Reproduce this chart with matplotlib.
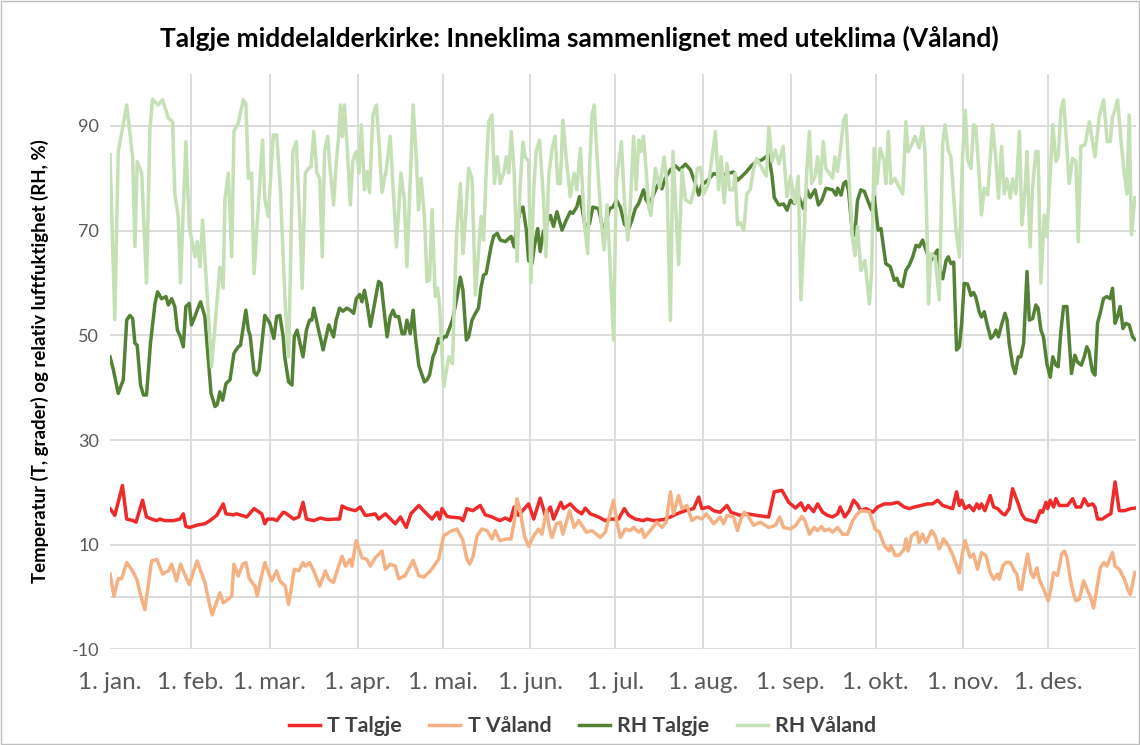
import matplotlib
matplotlib.use("Agg")
import matplotlib.pyplot as plt
from matplotlib.patches import Rectangle
import numpy as np

plt.rcParams['font.family'] = ['Lato', 'DejaVu Sans']

# day of year (0 = 1. jan.) and values
t_talgje_day = [2.5, 4.2, 6.9, 8.4, 10.7, 11.7, 14, 15.4, 17.2, 19, 20.1, 21.9, 24.9, 27.2, 28.4, 29.3, 30.7, 33.7, 36, 37.8,
                40.2, 42.5, 43.5, 46.1, 47.2, 50.8, 53.4, 56.1, 57.2, 58.1, 60.2, 61.4, 63.7, 64.4, 67.4, 69.2, 70.7, 71.9, 74.5, 76.8,
                79.2, 82.1, 83.6, 84.5, 86.2, 89.2, 90.9, 92.7, 94.5, 96.2, 97.4, 99.8, 103.3, 105.1, 107.2, 108.8, 111.6, 113.3, 116.3, 118.1,
                119, 119.8, 121.6, 122.7, 126.3, 127.2, 128.6, 130.7, 133.3, 135.1, 137.5, 140.2, 142.2, 143.9, 145.3, 146.8, 150.4, 152.2, 154.5, 156.3,
                158.1, 159.2, 161.8, 162.7, 165.1, 167.4, 169.2, 170.4, 172.2, 175.1, 177.5, 179.3, 182.2, 184.2, 185.8, 188.1, 191, 192.2, 194.6, 198.1,
                200.5, 202.8, 205.8, 208.7, 210.5, 211.6, 214, 215.8, 218.1, 220.5, 221.9, 225.2, 227.5, 231.1, 235.2, 237.2, 239.9, 242.3, 244.7, 246.6,
                248, 249.2, 251.1, 252.5, 254.3, 256, 257.8, 259.6, 260.5, 262.1, 263.7, 265.2, 266.4, 267.8, 269.6, 272, 273.7, 276.1, 278.4, 280.8,
                283.1, 284.9, 286.7, 289, 291.4, 293.1, 294.9, 296.7, 298.4, 300.2, 301.6, 302.6, 303.4, 304.6, 306.1, 307.6, 308.8, 309.6, 310.4, 311.6,
                313.5, 314.7, 316.1, 317.9, 318.7, 320.2, 321.4, 323.4, 324.6, 325.8, 327.9, 329.6, 331.2, 332, 333.2, 333.8, 334.7, 335.9, 336.7, 337.9,
                340.8, 342.6, 343.8, 345.5, 346.7, 348.1, 349.7, 350.5, 351.4, 353.1, 355, 356.1, 357.6, 359.1, 360.9, 363.2, 364.6]
t_talgje = [16.9, 15.6, 21.3, 14.9, 14.6, 14.3, 18.5, 15.3, 14.9, 14.6, 14.9, 14.6, 14.6, 14.9, 15.9, 13.5, 13.3, 13.8, 14, 14.6,
            15.6, 17.8, 15.9, 15.7, 15.9, 15.3, 16.9, 15.9, 14, 14.9, 14.9, 14.6, 16.2, 16.1, 14.9, 15.3, 18.1, 14.9, 14.6, 15.1,
            14.8, 14.9, 14.9, 17.4, 16.9, 16.5, 17.2, 15.6, 15.7, 15.9, 14.9, 15.9, 14, 15.3, 13.3, 15.9, 17.5, 16.5, 14.9, 16.2,
            14.9, 16.9, 15.4, 15.3, 15.1, 14.6, 16.9, 16.5, 17.5, 15.7, 15.3, 14.6, 15.1, 14.6, 17.2, 15.6, 17.8, 14.9, 18.9, 15.6,
            17.2, 14.9, 18.1, 16.9, 17.8, 16.5, 15.9, 17, 15.9, 15.3, 14.6, 14.9, 14.9, 16.9, 15.6, 14.9, 14.6, 14.9, 14.6, 14.8,
            15.3, 15.9, 16.5, 16.9, 19.1, 16.9, 17.2, 16.5, 16.2, 17.5, 16.2, 15.6, 15.9, 15.6, 15.3, 20.1, 20.4, 18.1, 17, 18,
            16.5, 17.5, 16.3, 17.8, 16.2, 15.6, 15.3, 15.9, 17.2, 15.3, 16.5, 18.5, 17.8, 16.5, 16.9, 16.2, 17.2, 17.8, 17.8, 18.1,
            17.2, 16.9, 17.2, 17.5, 17.8, 17.8, 18.5, 17.5, 17.2, 16.9, 20.1, 17.5, 18.5, 16.9, 17.5, 16.5, 17.8, 16.9, 17.8, 16.5,
            19.4, 17.2, 16.9, 15.9, 15.7, 16.9, 20.7, 17.8, 15.9, 14.9, 14.6, 14.3, 16.5, 16.2, 18.1, 16.9, 18.5, 17.2, 18.8, 17.5,
            17.5, 18.8, 17.2, 17.2, 18.8, 17.5, 17.8, 17.2, 14.9, 14.9, 15.6, 15.9, 22, 16.5, 16.5, 16.9, 17]

t_valand_day = [2.5, 3.9, 5.4, 6.6, 8.4, 10.1, 11.9, 13.7, 14.8, 17.2, 19, 21.1, 23.1, 24.3, 26, 27.4, 28.6, 30.5, 31.9, 33.3,
                36, 37.8, 38.6, 41.3, 42.5, 44.3, 45.5, 46.3, 47.8, 49.4, 50.5, 51.7, 53.7, 54.5, 56, 57.2, 59.6, 61.4, 62.5, 64.4,
                65.6, 66.4, 67.6, 69.2, 70.7, 71.5, 73, 74.5, 76.6, 78.6, 79.8, 81.5, 82.9, 84.5, 85.7, 87.4, 88, 89.5, 91.5, 93.3,
                94.5, 96.2, 98.6, 99.8, 101.5, 103.3, 104.5, 106.8, 109.6, 111.6, 113.3, 115.7, 118.6, 120.4, 122.7, 125.1, 127.2, 128.6, 129.6, 130.7,
                132.2, 133.9, 135.7, 137.5, 138.6, 140.2, 142.8, 144.2, 145.3, 146.3, 147.5, 148.9, 150.4, 152.2, 153.9, 155.1, 156.7, 157.8, 158.7, 160.2,
                161.6, 162.5, 164.9, 166.5, 168.1, 170.8, 172.8, 175.7, 177.5, 180.4, 181.6, 182.8, 184.6, 186.3, 187.5, 189.3, 190.4, 191.3, 193.4, 195.7,
                197.5, 199, 200.5, 201.6, 203.4, 204.6, 206.3, 208.1, 209.9, 211.6, 213.2, 214.6, 215.8, 218.1, 219.3, 220.5, 222.8, 224.2, 225.4, 226.6,
                228.1, 229.9, 232.3, 235.2, 237.6, 239.1, 240.5, 242.9, 244.8, 246.9, 248, 249.6, 251.3, 252.5, 253.9, 254.9, 256.6, 257.8, 259.6, 261.3,
                263.1, 264.9, 266.1, 267.8, 270.8, 272.8, 274.3, 276.1, 277.8, 278.4, 279.8, 281.4, 283.1, 283.7, 284.5, 285.7, 287.6, 288.4, 289.6, 290.8,
                292.8, 294, 295.5, 297, 298.4, 299.9, 302.6, 303.7, 304.6, 306.4, 307.6, 309, 310.4, 312, 313.5, 314.7, 316.1, 316.7, 317.9, 319,
                320.6, 322, 322.9, 323.8, 324.6, 325.5, 326.7, 327.9, 328.8, 330, 330.8, 332.6, 334, 334.9, 335.9, 337.3, 338.7, 339.7, 340.6, 341.8,
                343, 343.8, 345, 346.5, 347.9, 348.8, 350, 351.2, 352.4, 353.6, 354.7, 356.7, 357.6, 359.1, 360.9, 362.3, 363, 364.6]
t_valand = [4.4, 0.2, 3.5, 3.5, 6.6, 5.3, 3.5, -0.4, -2.4, 6.9, 7.2, 4.4, 5, 6.3, 3.1, 6.3, 4.7, 2.4, 4.7, 6.9,
            2.8, -1.7, -3.4, 0.8, -1.1, -0.4, 0.2, 6.3, 4, 6.3, 6.6, 3.5, 2.1, 0.2, 4, 6.6, 3.1, 5, 3.1, 2.1,
            -1.4, 1.2, 5.3, 5, 6.6, 5.9, 6.6, 5, 2.1, 5, 3.4, 2.8, 5.3, 7.8, 5.9, 7.2, 5.9, 10.8, 7.5, 7.2,
            5.9, 7.5, 8.8, 5.3, 6.3, 5.9, 3.5, 4.1, 7, 4.1, 3.8, 5, 7.2, 11.7, 12.5, 13, 10.8, 7.2, 6.3, 7.6,
            11.7, 13, 12.7, 11.1, 12.7, 10.8, 11.1, 11.1, 14.3, 18.8, 16.2, 11.7, 9.7, 11.7, 13, 12, 16.5, 13, 11.4, 14,
            14.3, 12, 16.5, 13.3, 14.6, 12.4, 12.7, 11.4, 12.4, 18.5, 14.3, 11.4, 13, 12.7, 13.3, 12.4, 13, 11.4, 12.7, 14.3,
            13.3, 14.3, 20.1, 15.9, 19.4, 16.9, 17.5, 14.6, 15.3, 14.9, 15.9, 14.9, 14, 15.3, 14, 15.6, 15.3, 12.7, 14.9, 16.2,
            15.3, 13.7, 14.3, 13.3, 13.7, 15.3, 13.3, 13, 13.7, 15.4, 14.6, 12, 13.3, 12.7, 13.5, 12.7, 13, 12.4, 13.3, 12,
            12, 14.6, 15.6, 16.5, 16.3, 13, 12.4, 9.8, 8.8, 9.8, 8, 8, 9.2, 11.1, 8.8, 11.7, 12.4, 10.4, 12, 10.4,
            12.7, 11.7, 9.2, 11.1, 10.1, 8.5, 4.6, 8.5, 10.8, 7.6, 8.2, 5.3, 8.5, 7.9, 4.7, 3.4, 4.4, 3.4, 5.9, 6.6,
            6.6, 5, 4.4, 1.5, 1.5, 4.7, 8.2, 4.7, 3.7, 5.6, 3.4, 1.2, -0.7, 1.5, 4.7, 4.1, 8.2, 8.8, 7.6, 3.4,
            0.5, -0.7, -0.4, 3.1, 1.2, 0.2, -2.1, 1.8, 5.6, 6.6, 5.9, 8.5, 5.9, 5.3, 3.4, 1.2, 0.5, 4.7]

rh_talgje_day = [2.5, 3.7, 5.4, 7.2, 8.4, 9.5, 10.5, 11.3, 12.1, 13.3, 14.3, 15.4, 16.8, 18.4, 19.3, 20.7, 22.3, 23.1, 24.3, 25.4,
                 26.3, 27.4, 28.4, 29.3, 30.5, 31.3, 32.5, 33.3, 34.5, 36, 38.2, 39.6, 40.4, 41.3, 42.3, 43.5, 44.9, 46.3, 47.8, 48.6,
                 50.5, 51.4, 52, 53.4, 54.3, 55.2, 57.2, 59, 60.4, 61.4, 62.5, 63.7, 64.2, 65.6, 66.8, 67.6, 68.6, 70.7, 71.9, 73,
                 73.8, 74.5, 76.2, 77.8, 79.8, 81.5, 82.4, 83.6, 84.8, 86.2, 87.4, 88.6, 89.5, 90.7, 91.5, 92.4, 93.3, 94.5, 96, 97.4,
                 98.3, 99.4, 100.4, 101.5, 102.5, 103.3, 104.5, 105.7, 106.6, 107.4, 108.6, 109.6, 110.4, 111.6, 113.6, 114.5, 115.4, 116.6, 117.4, 118.6,
                 119.2, 120.4, 121.3, 122.2, 123.5, 124.9, 126.3, 127.2, 128.4, 129.2, 130.4, 131.6, 132.7, 133.6, 134.5, 135.4, 137.1, 138, 139.3, 140.4,
                 142.2, 144.2, 145.3, 146.3, 147.5, 148.4, 149.6, 150.4, 151.6, 152.4, 153.6, 154.5, 155.5, 156.9, 158.1, 159.2, 160.4, 162.2, 163.7, 165.1,
                 166, 167.4, 168.4, 169.2, 170.4, 171.9, 173.1, 175.1, 177.1, 178.1, 179, 180.2, 181.4, 182.8, 184.3, 185.8, 186.9, 188.1, 189.3, 191,
                 191.9, 193.1, 194.6, 196.3, 197.5, 198.7, 200.5, 202.2, 203.8, 205.8, 207.6, 209.3, 210.5, 211.6, 213.6, 215.8, 218.1, 220.5, 222.8, 224.2,
                 225.8, 227.3, 229.3, 231, 232.8, 235.2, 236.4, 237.2, 238.8, 240.5, 241.7, 242.9, 244.3, 245.4, 247.6, 248.7, 249.9, 251.6, 252.8, 254,
                 255.5, 257.8, 259, 259.6, 260.8, 261.7, 262.5, 263.4, 264.9, 265.7, 266.6, 267.8, 269, 270.2, 271.6, 272.5, 273.9, 274.9, 275.8, 276.6,
                 278.2, 279.6, 280.5, 281.4, 282.5, 283.7, 284.9, 286.1, 287.3, 288.4, 289.6, 290.8, 292, 292.6, 294, 294.9, 296.1, 296.7, 297.9, 298.7,
                 299.6, 300.6, 301.6, 302.6, 303.4, 304.3, 305.5, 306.7, 307.6, 308.4, 309.6, 310.4, 311.4, 312.3, 313.7, 314.7, 315.5, 316.4, 317.5, 318.7,
                 319.4, 320.2, 321.4, 322.3, 323.4, 324.3, 325.3, 326.5, 327.3, 328.5, 329.6, 330.4, 331.4, 332.3, 333.5, 334.7, 335.6, 336.7, 337.5, 338.5,
                 339.4, 340.6, 342.2, 343.4, 344.3, 345.7, 346.7, 347.6, 348.4, 349.6, 350.5, 351.4, 352.6, 353.5, 354.7, 355.9, 356.7, 357.6, 358.5, 359.4,
                 360.4, 361.4, 362.6, 363.8, 364.6]
rh_talgje = [45.9, 43.4, 38.9, 41.5, 52.9, 53.8, 53.2, 48.5, 48.1, 40.5, 38.6, 38.6, 48.5, 56.1, 58.3, 57, 57.4, 55.8, 57, 55.5,
             51, 49.7, 47.8, 55.5, 56.1, 52, 53.6, 54.8, 56.4, 53.6, 38.9, 36.4, 36.8, 39.2, 37.6, 40.8, 41.5, 46.6, 47.8, 48.1,
             54.8, 51, 50, 43, 42.4, 43.4, 53.8, 52.3, 49.4, 53.6, 53.8, 49.7, 46, 41.1, 40.5, 49.7, 51, 45.9, 51, 52.9,
             52.9, 55.2, 51, 47.2, 52, 49.7, 52.9, 55.2, 54.6, 55.2, 54.8, 54.2, 57, 57.8, 56.4, 58.6, 56.1, 51.7, 56.1, 60.3,
             59.9, 54.4, 49.7, 53.6, 54.8, 53.6, 53.6, 50.3, 50.3, 52.9, 50.3, 54.8, 49.7, 44.2, 41.1, 41.5, 42.4, 45.9, 46.9, 49.4,
             48.5, 49.7, 49.7, 51, 52.9, 56.7, 61.1, 58.6, 49.1, 49.7, 52.9, 54.2, 55.2, 59.2, 61.5, 61.8, 66.9, 68.9, 69.5, 68.2,
             67.9, 68.9, 66.9, 71.3, 73.9, 74.5, 70.1, 64.3, 63.7, 66.9, 70.4, 66, 69.5, 71.7, 72.9, 70.8, 73.6, 70.1, 72, 73.6,
             73.3, 74.5, 76.5, 74.5, 70.8, 71.3, 74.5, 74.2, 69.2, 72.3, 74.2, 74.5, 75.8, 74.5, 71.2, 70.4, 72, 74.2, 75.2, 77.8,
             75.9, 74.9, 77, 79, 78, 80, 81.6, 82.4, 81.6, 82.7, 81.6, 79, 76.8, 78.7, 79.6, 80.9, 80.5, 80.9, 81.2, 79.6,
             80.4, 81.2, 82.5, 83.2, 83.5, 84.5, 80.5, 76.3, 74.9, 75.1, 73.9, 75.8, 75.2, 77, 74.2, 77.8, 76.3, 77.8, 74.9, 75.8,
             78.1, 77.8, 76.8, 78.1, 76.8, 79, 79.4, 77.8, 68.9, 69.5, 75.8, 77.8, 77.5, 75.8, 73.9, 76.5, 70.1, 70.4, 66.9, 63.7,
             63.1, 60.5, 60.9, 59.6, 59.3, 62.4, 63.4, 65, 67.2, 66.9, 68.2, 66.3, 64.3, 64.3, 65.6, 66.3, 61.1, 60.8, 64.3, 65,
             63.7, 64, 47.2, 47.8, 52.3, 59.9, 59.8, 57.6, 58.2, 57.3, 54.5, 53.5, 54.5, 52.3, 49.4, 50, 51, 49.7, 52, 54.2,
             53, 48.5, 44.3, 42.7, 45.9, 45.9, 48.5, 62.2, 52.9, 53.2, 55.8, 55.2, 51, 49.7, 44.6, 42, 45.9, 44.3, 44, 51,
             55.5, 55.5, 42.7, 46.2, 44.9, 44.3, 45.9, 47.8, 46.9, 43.1, 42.4, 52.3, 54.8, 57, 57.4, 57, 59, 52.3, 53.6, 55.5,
             51.3, 52.3, 52, 49.7, 49.2]

rh_valand_day = [2.5, 4.2, 5.4, 8.4, 10.5, 11.3, 12.1, 13.7, 15.4, 16.6, 17.5, 19.5, 21.1, 23.1, 24.6, 25.4, 26.6, 27.4, 29.3, 30.5,
                 32.5, 33.3, 34.3, 35.2, 38.4, 41.3, 42.5, 43.1, 44.3, 45.5, 46.3, 47.8, 49.6, 50.5, 51.4, 52.5, 53.4, 56.4, 57.2, 58.4,
                 60.2, 61.4, 62.7, 64.3, 65.6, 67.1, 68.3, 69.7, 70.4, 71.5, 72.7, 73.5, 74.5, 75.6, 76.6, 77.5, 78.3, 79.4, 80.3, 81.5,
                 82.4, 83.3, 83.9, 84.6, 85.3, 86.5, 87.4, 88.3, 89.5, 90.5, 91.3, 92.4, 93.3, 94.2, 95.4, 96.6, 97.5, 98.6, 100.1, 101.5,
                 102.7, 103.7, 105.3, 106.5, 107.4, 109.6, 110.7, 111.5, 112.4, 113.6, 114.5, 115.4, 116.3, 117.4, 118.2, 118.9, 120.4, 122.2, 123.5, 124.9,
                 126.3, 127.2, 128, 129.2, 130.4, 131.6, 132.4, 133.6, 134.5, 135.4, 136.3, 137.5, 138.3, 139.3, 140.4, 141.6, 142.5, 143.4, 144.3, 145.3,
                 146.3, 147.5, 148.4, 149.2, 150.4, 151.2, 152.2, 153.1, 154.3, 155.7, 156.5, 157.5, 158.7, 159.8, 160.7, 161.6, 162.5, 163.7, 165.1, 166.5,
                 167.4, 168.7, 170.1, 171.3, 172, 172.8, 173.6, 174.6, 176, 177.1, 178.1, 179, 180.4, 181.4, 183.2, 184.2, 185.4, 186.3, 187.5, 188.4,
                 189.3, 190.1, 191, 192, 192.8, 193.6, 195.2, 196.7, 198.3, 199.3, 200.5, 201.4, 203.4, 204.6, 205.8, 207.6, 208.9, 210.1, 211.1, 212.2,
                 214, 216.4, 217.5, 218.4, 219.5, 220.5, 221.4, 222.8, 223.4, 224.2, 225.2, 226.4, 227.5, 228.7, 229.9, 231, 233.2, 234.4, 235.3, 236.4,
                 237.6, 238.8, 240.3, 241.7, 242.9, 244.5, 245.7, 246.6, 247.8, 248.7, 249.6, 250.4, 251.6, 252.5, 253.5, 254.5, 255.4, 256.6, 257.8, 258.6,
                 259.5, 260.5, 261.7, 262.5, 263.7, 264.8, 265.7, 266.6, 267.8, 269.2, 270.8, 271.6, 272.5, 273.5, 274.6, 276, 276.6, 277.5, 278.4, 279.8,
                 281.4, 282.6, 283.7, 284.5, 285.7, 286.9, 288.4, 289.6, 290.4, 291.1, 291.7, 292.5, 294, 295.5, 296.7, 297.5, 298.7, 299.6, 301.4, 302.6,
                 303.7, 304.7, 305.5, 306.7, 307.6, 308.4, 309.6, 310.4, 311.4, 312.6, 314.3, 315.5, 316.4, 317.5, 318.4, 319.4, 320.6, 321.4, 322.6, 323.8,
                 324.7, 325.8, 326.5, 327.6, 328.4, 329.6, 330.4, 331.4, 332.6, 333.5, 334.7, 335.6, 336.7, 337.5, 338.5, 339.4, 340.6, 341.4, 342.6, 343.8,
                 344.6, 345.5, 347, 348.5, 350.5, 352, 353.6, 354.8, 355.9, 356.7, 357.6, 358.5, 359.9, 360.9, 361.8, 362.6, 363.4, 364.6]
rh_valand = [84.5, 53, 85, 94, 84, 67, 83.2, 81, 60, 89.2, 95.1, 94, 95, 91.5, 90.8, 77, 72.7, 60, 87, 70.8,
             65, 67.9, 63.1, 72, 44, 63, 59, 75.9, 81, 65, 89, 90.5, 95, 94.3, 80, 81, 61.8, 87.3, 75.9, 72.7,
             88.3, 88.3, 77.8, 57, 45.9, 85.1, 87, 70.1, 59, 81, 81.9, 82.2, 88.9, 81, 80, 65, 85.1, 88, 81.6, 74.9,
             82.9, 88, 94, 88, 94, 84.1, 74.9, 83.4, 85.1, 81, 90.2, 77.8, 81.3, 77.3, 92.1, 94, 87.3, 77.3, 81.6, 88,
             76.5, 66.9, 81, 75.9, 63.1, 94, 84.1, 74, 80, 72.7, 60.3, 60.6, 74, 57.4, 59, 56.1, 40.2, 45.9, 44.6, 68.9,
             79, 65.6, 71.3, 81.9, 80, 57.7, 63.5, 72.7, 68.2, 81, 90.8, 92.1, 79, 84.1, 79, 81, 84.1, 81, 88.9, 81,
             64.1, 79.5, 86.9, 84.1, 83.2, 60, 77.8, 85.3, 87.3, 75.5, 65, 80.4, 85.7, 88, 79, 79, 91.1, 83.8, 76.5, 81,
             77.8, 85.7, 71.3, 65.6, 82.8, 92.1, 94, 84.1, 72, 66.3, 74.9, 65.6, 49.1, 79.5, 87, 76, 68.2, 74.5, 88, 77.8,
             87.3, 85.1, 88, 81, 74.5, 72.9, 81.9, 78.3, 84.1, 79, 52.9, 85.1, 63.5, 81.6, 75.9, 75.3, 77.8, 81.9, 82.1, 77,
             79, 88.9, 77.8, 84.1, 75.3, 82.8, 77.8, 77.8, 81, 71.1, 71.5, 70.1, 77, 77.8, 81.9, 83.8, 81.6, 80.4, 89.9, 83.2,
             85.4, 82.8, 86.1, 76.5, 80.4, 75.3, 80.4, 56.8, 70.1, 81.6, 88.9, 79, 80.4, 84.1, 79, 87, 81.9, 81, 80, 84.1,
             81.3, 85.1, 91.1, 92.1, 79, 68.7, 65.2, 70.8, 62.4, 64.3, 56, 62.4, 85.7, 79, 85.7, 83.2, 79, 88.9, 79, 80,
             78.3, 77, 90.8, 85.1, 86.4, 88, 85.8, 89.9, 85.4, 71.3, 56, 65.6, 65, 56.8, 86.6, 90.2, 85.4, 84.1, 70.1, 65,
             84, 93, 83.5, 81.9, 90.2, 89.9, 80.4, 73, 78.1, 76.8, 90.2, 83.5, 76.2, 86.1, 77, 79.9, 76.2, 79.9, 77, 88.9,
             71.1, 77.8, 85.1, 66.9, 77.8, 85.1, 85.1, 60, 73, 68.9, 81, 90.2, 83.2, 84.1, 93.1, 95, 85.8, 79, 83.8, 83.2,
             67.9, 86.1, 86.4, 90.8, 84.1, 91.7, 95, 87, 87, 91.7, 93.1, 95, 86.1, 80.8, 77, 92.1, 69.2, 76.3]

month_starts = [0, 31, 59, 90, 120, 151, 181, 212, 243, 273, 304, 334]
month_labels = ['1. jan.', '1. feb.', '1. mar.', '1. apr.', '1. mai.', '1. jun.',
                '1. jul.', '1. aug.', '1. sep.', '1. okt.', '1. nov.', '1. des.']
y_ticks = [-10, 10, 30, 50, 70, 90]

fig = plt.figure(figsize=(11.4, 7.45), dpi=100)
ax = fig.add_axes([110 / 1140, 95.6 / 745, 1026 / 1140, 575.8 / 745])

grid_c = '#D9D9D9'
for d in month_starts[1:]:
    ax.axvline(d, color=grid_c, lw=1.3, zorder=0)
for v in y_ticks:
    ax.axhline(v, color=grid_c, lw=1.3, zorder=0)
ax.axhline(0, color=grid_c, lw=1.3, zorder=0)

ax.plot(t_talgje_day, t_talgje, color='#EE2A2A', lw=2.5, label='T Talgje', solid_joinstyle='round')
ax.plot(t_valand_day, t_valand, color='#F4B183', lw=2.5, label='T Våland', solid_joinstyle='round')
ax.plot(rh_talgje_day, rh_talgje, color='#548235', lw=2.5, label='RH Talgje', solid_joinstyle='round')
ax.plot(rh_valand_day, rh_valand, color='#C5E0B4', lw=2.5, label='RH Våland', solid_joinstyle='round')

ax.set_xlim(2.5, 365)
ax.set_ylim(-10, 100)
ax.set_yticks(y_ticks)
ax.set_yticklabels([str(v) for v in y_ticks])
ax.set_xticks([2.5] + month_starts[1:])
ax.set_xticklabels(month_labels)
ax.tick_params(axis='both', length=0, colors='#595959')
ax.tick_params(axis='y', labelsize=13, pad=8)
ax.tick_params(axis='x', labelsize=17.5, pad=16)
for s in ax.spines.values():
    s.set_visible(False)

ax.set_ylabel('Temperatur (T, grader) og relativ luftfuktighet (RH, %)', fontsize=13.4,
              fontweight='bold', color='black', labelpad=16)
fig.text(0.508, 1 - 38 / 745, 'Talgje middelalderkirke: Inneklima sammenlignet med uteklima (Våland)',
         ha='center', va='center', fontsize=19, fontweight='bold')

leg = fig.legend(loc='center', bbox_to_anchor=(0.511, 1 - 726 / 745), ncol=4, frameon=False,
                 handlelength=1.45, columnspacing=1.3, handletextpad=0.35,
                 prop={'size': 15.3, 'weight': 'bold'})
for t in leg.get_texts():
    t.set_color('#404040')

fig.add_artist(Rectangle((0.0005, 0.001), 0.999, 0.998, transform=fig.transFigure,
                         fill=False, edgecolor='#BFBFBF', lw=1))

fig.savefig('out.png', dpi=100)
